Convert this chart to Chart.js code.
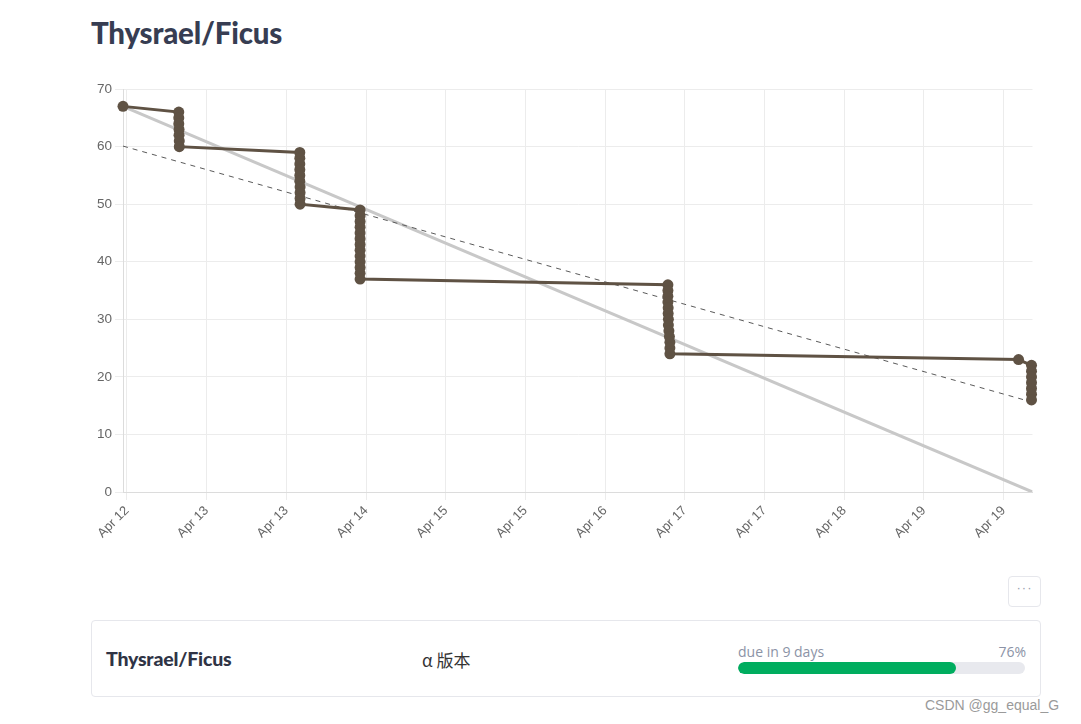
<!DOCTYPE html>
<html>
<head>
<meta charset="utf-8">
<script src="https://cdn.jsdelivr.net/npm/chart.js@4.4.0/dist/chart.umd.min.js"></script>
<style>
  body { margin: 0; background: #fff; width: 1081px; height: 724px; position: relative; overflow: hidden; font-family: "Liberation Sans", Arial, sans-serif; }
  h1 { position: absolute; left: 91px; top: 15px; margin: 0; font-family: Lato, "Noto Sans", sans-serif; font-weight: 900; font-size: 29.5px; color: #373d52; letter-spacing: -0.2px; }
  #wrap { position: absolute; left: 83px; top: 78px; width: 955px; height: 474px; }
  .more { position: absolute; left: 1008px; top: 576px; width: 31px; height: 29px; border: 1px solid #e6e7ec; border-radius: 4px; color: #9aa0ae; font-size: 13px; text-align: center; line-height: 22px; letter-spacing: 1px; }
  .card { position: absolute; left: 91px; top: 620px; width: 948px; height: 75px; border: 1px solid #e6e7ec; border-radius: 4px; }
  .card .name { position: absolute; left: 14px; top: 26px; font-family: Lato, "Noto Sans", sans-serif; font-weight: 900; font-size: 19.5px; color: #2f3445; letter-spacing: -0.2px; }
  .card .ver { position: absolute; left: 330px; top: 26px; font-family: "Noto Sans CJK SC", "Noto Sans", sans-serif; font-size: 17px; color: #333; }
  .card .due { position: absolute; left: 646px; top: 21px; font-family: "Open Sans", "Noto Sans", sans-serif; font-size: 14px; color: #8b93a6; }
  .card .pct { position: absolute; right: 14px; top: 21px; font-family: "Open Sans", "Noto Sans", sans-serif; font-size: 14px; color: #8b93a6; }
  .card .bar { position: absolute; left: 646px; top: 41px; width: 287px; height: 12px; border-radius: 6px; background: #e8e9ee; overflow: hidden; }
  .card .fill { height: 100%; width: 76%; background: #00ad5f; border-radius: 6px; }
  .wm { position: absolute; left: 925px; top: 697px; font-size: 14px; color: #9a9a9a; }
</style>
</head>
<body>
<h1>Thysrael/Ficus</h1>
<div id="wrap"><canvas id="burndown"></canvas></div>
<div class="more">···</div>
<div class="card">
  <div class="name">Thysrael/Ficus</div>
  <div class="ver">α 版本</div>
  <div class="due">due in 9 days</div>
  <div class="pct">76%</div>
  <div class="bar"><div class="fill"></div></div>
</div>
<div class="wm">CSDN @gg_equal_G</div>
<script>
// hours counted from Apr 12 00:00
const tickHours = [12, 28, 44, 60, 76, 92, 108, 124, 140, 156, 172, 188];
const tickLabels = ['Apr 12', 'Apr 13', 'Apr 13', 'Apr 14', 'Apr 15', 'Apr 15', 'Apr 16', 'Apr 17', 'Apr 17', 'Apr 18', 'Apr 19', 'Apr 19'];

const remainingHours = [
    11.2,
    22.4, 22.4, 22.4, 22.45, 22.45, 22.5, 22.5,
    46.7, 46.7, 46.7, 46.7, 46.7, 46.7, 46.75, 46.75, 46.75, 46.75,
    58.8, 58.8, 58.8, 58.8, 58.8, 58.8, 58.8, 58.8, 58.8, 58.8, 58.8, 58.8, 58.8,
    120.6, 120.6, 120.6, 120.6, 120.65, 120.65, 120.7, 120.7, 120.8, 120.9, 121.0, 121.0, 121.0,
    191.0,
    193.6, 193.6, 193.6, 193.6, 193.6, 193.6, 193.6
];
const remainingIssues = [
    67,
    66, 65, 64, 63, 62, 61, 60,
    59, 58, 57, 56, 55, 54, 53, 52, 51, 50,
    49, 48, 47, 46, 45, 44, 43, 42, 41, 40, 39, 38, 37,
    36, 35, 34, 33, 32, 31, 30, 29, 28, 27, 26, 25, 24,
    23,
    22, 21, 20, 19, 18, 17, 16
];

const rangeHours = [11.2, 193.8];
const idealIssues = [67, 0];
const trendIssues = [60.1, 15.6];

function toPoints(xs, ys) {
    return xs.map((x, i) => ({ x: x, y: ys[i] }));
}

const ctx = document.getElementById("burndown").getContext("2d");

new Chart(ctx, {
    type: 'line',
    data: {
        datasets: [
            {
                label: 'Remaining',
                data: toPoints(remainingHours, remainingIssues),
                borderColor: '#5f5244',
                backgroundColor: '#5f5244',
                borderWidth: 3,
                pointRadius: 5.5,
                pointBorderWidth: 0,
                tension: 0,
                clip: false,
                order: 0
            },
            {
                label: 'Trend',
                data: toPoints(rangeHours, trendIssues),
                borderColor: '#5a5a5a',
                borderWidth: 1,
                borderDash: [5, 5],
                pointRadius: 0,
                order: 1
            },
            {
                label: 'Ideal',
                data: toPoints(rangeHours, idealIssues),
                borderColor: '#c8c8c8',
                borderWidth: 3,
                pointRadius: 0,
                order: 2
            }
        ]
    },
    options: {
        responsive: true,
        maintainAspectRatio: false,
        animation: false,
        layout: { padding: { top: 8, right: 1, left: 0, bottom: 0 } },
        plugins: {
            legend: { display: false },
            tooltip: { enabled: false }
        },
        scales: {
            x: {
                type: 'linear',
                min: rangeHours[0],
                max: rangeHours[1],
                afterBuildTicks: (scale) => {
                    scale.ticks = tickHours.map(v => ({ value: v }));
                },
                afterFit: (scale) => { scale.height = 60; },
                ticks: {
                    autoSkip: false,
                    maxRotation: 45,
                    minRotation: 45,
                    color: '#666',
                    font: { family: 'Liberation Sans', size: 13 },
                    callback: (value) => tickLabels[tickHours.indexOf(value)]
                },
                grid: { color: '#ececec', tickLength: 8 },
                border: { color: '#dcdcdc' }
            },
            y: {
                min: 0,
                max: 70,
                afterFit: (scale) => { scale.width = 40; },
                ticks: {
                    stepSize: 10,
                    color: '#666',
                    font: { family: 'Liberation Sans', size: 13.5 }
                },
                grid: { color: '#ececec', tickLength: 8 },
                border: { color: '#dcdcdc' }
            }
        }
    }
});
</script>
</body>
</html>
